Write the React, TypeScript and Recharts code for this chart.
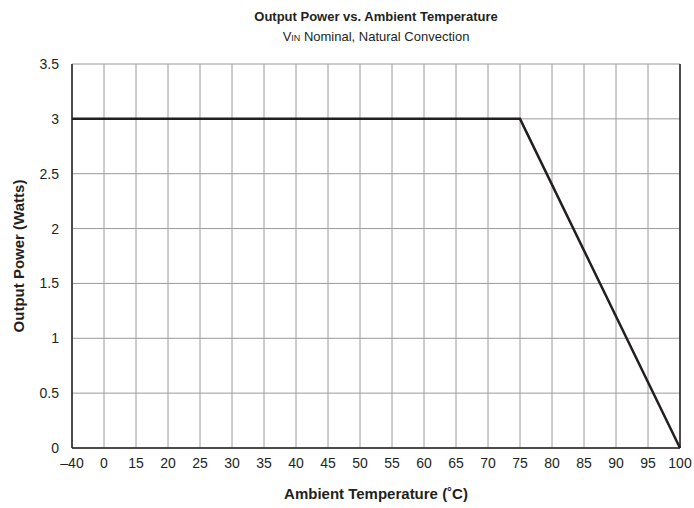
import React from "react";
import {
  CartesianGrid,
  Line,
  LineChart,
  ReferenceLine,
  XAxis,
  YAxis,
} from "recharts";

const temperatures = [
  "\u201340", "0", "15", "20", "25", "30", "35", "40", "45", "50",
  "55", "60", "65", "70", "75", "80", "85", "90", "95", "100",
];
// derating curve: flat at 3 W up to 75 °C, straight to 0 W at 100 °C
const outputPower: (number | null)[] = [
  3, 3, 3, 3, 3, 3, 3, 3, 3, 3,
  3, 3, 3, 3, 3, null, null, null, null, 0,
];
const powerTicks = [0, 0.5, 1, 1.5, 2, 2.5, 3, 3.5];

const data = temperatures.map((t, i) => ({ t, power: outputPower[i] }));

const font = "'Liberation Sans', Arial, Helvetica, sans-serif";

export default function App() {
  return (
    <div
      style={{
        position: "absolute",
        left: 0,
        top: 0,
        width: 694,
        height: 508,
        background: "#fff",
        fontFamily: font,
        color: "#231f20",
      }}
    >
      <div
        style={{
          position: "absolute",
          left: 72,
          width: 608,
          top: 9,
          textAlign: "center",
          fontSize: 13,
          fontWeight: "bold",
        }}
      >
        Output Power vs. Ambient Temperature
      </div>
      <div
        style={{
          position: "absolute",
          left: 72,
          width: 608,
          top: 29,
          textAlign: "center",
          fontSize: 13,
        }}
      >
        V<span style={{ fontSize: 9 }}>IN</span> Nominal, Natural Convection
      </div>
      <div
        style={{
          position: "absolute",
          left: 18,
          top: 256,
          fontSize: 15,
          fontWeight: "bold",
          whiteSpace: "nowrap",
          transform: "translate(-50%, -50%) rotate(-90deg)",
        }}
      >
        Output Power (Watts)
      </div>
      <div
        style={{
          position: "absolute",
          left: 72,
          width: 608,
          top: 485,
          textAlign: "center",
          fontSize: 15,
          fontWeight: "bold",
        }}
      >
        Ambient Temperature (˚C)
      </div>
      <LineChart
        width={694}
        height={508}
        data={data}
        margin={{ top: 64, right: 14, left: 32, bottom: 30 }}
        style={{ position: "absolute", left: 0, top: 0 }}
      >
        <CartesianGrid stroke="#9a9a9a" strokeWidth={1} />
        <XAxis
          dataKey="t"
          height={30}
          interval={0}
          tickLine={false}
          axisLine={{ stroke: "#231f20", strokeWidth: 1.5 }}
          tickMargin={4}
          tick={{ fill: "#231f20", fontSize: 14, fontFamily: font }}
        />
        <YAxis
          width={40}
          domain={[0, 3.5]}
          ticks={powerTicks}
          interval={0}
          tickLine={false}
          axisLine={{ stroke: "#231f20", strokeWidth: 1.5 }}
          tickMargin={7}
          tick={{ fill: "#231f20", fontSize: 14, fontFamily: font }}
        />
        <ReferenceLine x="100" stroke="#231f20" strokeWidth={1.5} />
        <Line
          type="linear"
          dataKey="power"
          stroke="#231f20"
          strokeWidth={2.5}
          dot={false}
          activeDot={false}
          connectNulls
          isAnimationActive={false}
        />
      </LineChart>
    </div>
  );
}
